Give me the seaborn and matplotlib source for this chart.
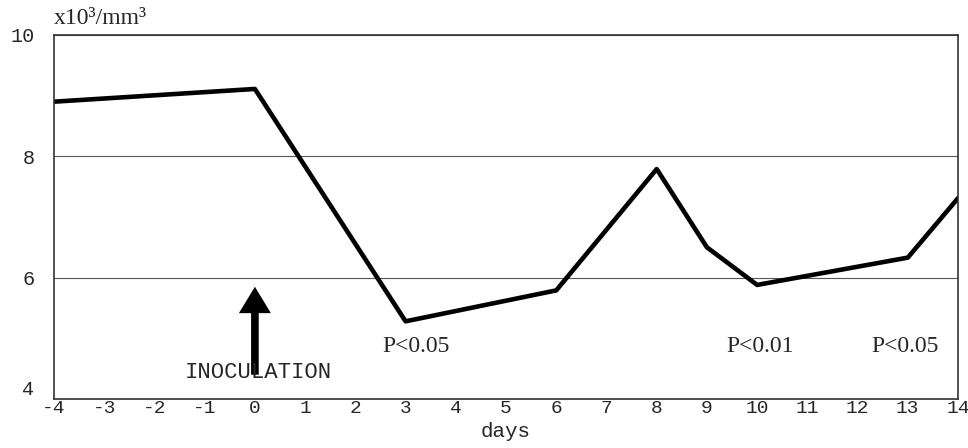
import matplotlib
matplotlib.use("Agg")
import matplotlib.pyplot as plt
import seaborn as sns
import pandas as pd

days = [-4, 0, 3, 6, 8, 9, 10, 13, 14]
counts = [8.90, 9.11, 5.28, 5.79, 7.79, 6.50, 5.88, 6.33, 7.31]
xticks = list(range(-4, 15))
yticks = [4, 6, 8, 10]
pvals = [(3.2, "P<0.05"), (10.05, "P<0.01"), (12.95, "P<0.05")]

sns.set_style("white")
mono = "Liberation Mono"
serif = "Liberation Serif"

fig = plt.figure(figsize=(9.68, 4.48), dpi=100)
ax = fig.add_axes([0.0558, 0.1094, 0.9339, 0.8126])

df = pd.DataFrame({"day": days, "count": counts})
sns.lineplot(data=df, x="day", y="count", ax=ax, color="black", linewidth=3.3)

ax.set_xlim(-4, 14)
ax.set_ylim(4, 10)
ax.set_xticks(xticks)
ax.set_xticklabels([str(t) for t in xticks], fontfamily=mono, fontsize=14)
ax.set_yticks(yticks)
ax.set_yticklabels([str(t) for t in yticks], fontfamily=mono, fontsize=14.5)
ax.tick_params(axis="x", length=0, pad=1)
ax.tick_params(axis="y", length=0, pad=14)
ax.get_yticklabels()[0].set_verticalalignment("bottom")
ax.yaxis.grid(True, color="#555555", linewidth=0.8)
ax.xaxis.grid(False)
for s in ax.spines.values():
    s.set_color("#333333")
    s.set_linewidth(1.2)

ax.set_xlabel("days", fontfamily=mono, fontsize=15, labelpad=3)
ax.set_ylabel("")
ax.text(0.0, 1.015, "x10³/mm³", transform=ax.transAxes, fontfamily=serif,
        fontsize=17, ha="left", va="bottom")

ax.annotate("", xy=(0, 5.85), xytext=(0, 4.40),
            arrowprops=dict(arrowstyle="simple,head_length=19,head_width=23,tail_width=5.5",
                            mutation_scale=1, fc="black", ec="black", lw=0,
                            shrinkA=0, shrinkB=0))
ax.text(0.06, 4.43, "INOCULATION", fontfamily=mono, fontsize=16,
        ha="center", va="center")

for x, t in pvals:
    ax.text(x, 4.86, t, fontfamily=serif, fontsize=17, ha="center", va="center")

fig.savefig("out.png", dpi=100)
